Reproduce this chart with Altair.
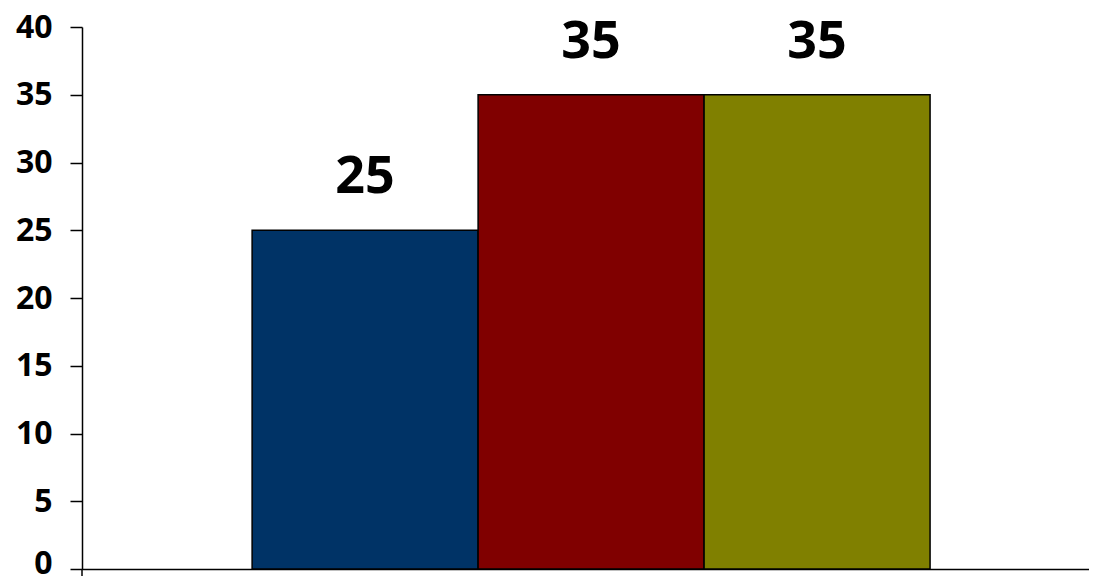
import altair as alt
import pandas as pd

categories = ["A", "B", "C"]
values = [25, 35, 35]
colors = ["#003366", "#800000", "#808000"]
y_ticks = [0, 5, 10, 15, 20, 25, 30, 35, 40]

df = pd.DataFrame({"cat": categories, "value": values})

W, H = 1007, 542
FONT = "Open Sans"

x_enc = alt.X("cat:N", sort=categories,
              scale=alt.Scale(paddingInner=0, paddingOuter=0.728, align=0.517),
              axis=alt.Axis(labels=False, ticks=False, title=None, domainColor="black",
                            domainWidth=1.5, grid=False))
y_enc = alt.Y("value:Q", scale=alt.Scale(domain=[0, 40], nice=False),
              axis=alt.Axis(values=y_ticks, title=None, grid=False, domainColor="black",
                            domainWidth=1.5, tickColor="black", tickWidth=1.5, tickSize=12,
                            labelPadding=18, labelFont=FONT, labelFontSize=32,
                            labelFontWeight="bold", labelColor="black",
                            labelOffset={"expr": "datum.value == 0 ? -6 : 0"},
                            labelOverlap=False, labelFlush=False))

bars = alt.Chart(df).mark_bar(stroke="black", strokeWidth=1.5).encode(
    x=x_enc, y=y_enc,
    color=alt.Color("cat:N", scale=alt.Scale(domain=categories, range=colors), legend=None),
)

labels = alt.Chart(df).mark_text(dy=-37, baseline="alphabetic", align="center",
                                 font=FONT, fontSize=52, fontWeight="bold",
                                 color="black").encode(
    x=alt.X("cat:N", sort=categories), y="value:Q", text="value:Q"
)

ext = alt.Chart(df.head(1)).mark_rule(color="black", strokeWidth=1.5).encode(
    x=alt.value(0), y=alt.value(H), y2=alt.value(H + 15)
)

chart = alt.layer(bars, labels, ext).properties(
    width=W, height=H,
    autosize=alt.AutoSizeParams(type="none"),
    padding={"left": 74, "top": 19, "right": 0, "bottom": 7},
).configure_view(stroke=None)

chart.save("out.html", embed_options={"renderer": "svg", "actions": False})
